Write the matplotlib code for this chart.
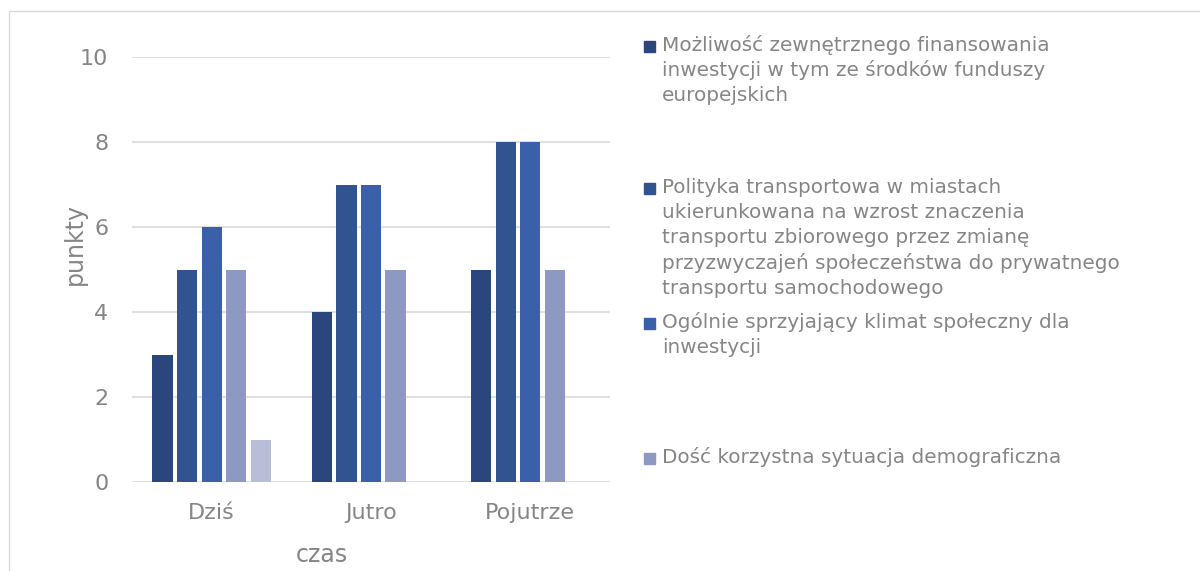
import numpy as np
import matplotlib.pyplot as plt
from matplotlib.patches import Rectangle

plt.rcParams['font.family'] = ['DejaVu Sans']

# --- DATA ---
categories = ["Dziś", "Jutro", "Pojutrze"]
series_names = [
    "Możliwość zewnętrznego finansowania\ninwestycji w tym ze środków funduszy\neuropejskich",
    "Polityka transportowa w miastach\nukierunkowana na wzrost znaczenia\ntransportu zbiorowego przez zmianę\nprzyzwyczajeń społeczeństwa do prywatnego\ntransportu samochodowego",
    "Ogólnie sprzyjający klimat społeczny dla\ninwestycji",
    "Dość korzystna sytuacja demograficzna",
    "",
]
s1 = [3, 4, 5]
s2 = [5, 7, 8]
s3 = [6, 7, 8]
s4 = [5, 5, 5]
s5 = [1, 0, 0]
values = [s1, s2, s3, s4, s5]
colors = ["#2a467c", "#31538f", "#3960a9", "#8d99c3", "#b8bdd8"]

TXT = "#858585"
W, H = 1200, 571

fig = plt.figure(figsize=(12, 5.71), dpi=100)
ax = fig.add_axes([132 / W, 1 - 482 / H, (610 - 132) / W, (482 - 57) / H])

x = np.arange(len(categories))
step = 0.154
bw = 0.127
for i, vals in enumerate(values):
    ax.bar(x + (i - 2) * step, vals, width=bw, color=colors[i], zorder=3)

ax.set_xlim(-0.5, 2.5)
ax.set_ylim(0, 10)
ax.set_yticks([0, 2, 4, 6, 8, 10])
ax.set_xticks(x)
ax.set_xticklabels(categories)
ax.grid(axis="y", color="#e0e0e0", linewidth=1.5, zorder=0)
for s in ax.spines.values():
    s.set_visible(False)
ax.tick_params(axis="both", length=0, labelsize=16, labelcolor=TXT)
ax.tick_params(axis="y", pad=17)
ax.tick_params(axis="x", pad=15)

# axis titles
fig.text(322 / W, 1 - 555 / H, "czas", fontsize=17, color=TXT, ha="center", va="center")
fig.text(75 / W, 1 - 244 / H, "punkty", fontsize=17, color=TXT, ha="center", va="center",
         rotation=90)

# legend (first four series)
baselines = [51, 193, 328, 463]
for i in range(4):
    lines = series_names[i].split("\n")
    for j, line in enumerate(lines):
        fig.text(662 / W, 1 - (baselines[i] + j * 25.2) / H, line, fontsize=14.4,
                 color=TXT, ha="left", va="baseline")
    fig.patches.append(Rectangle((644 / W, 1 - (baselines[i] + 1) / H), 11 / W, 11 / H,
                                 transform=fig.transFigure, color=colors[i]))

# chart border
fig.patches.append(Rectangle((9 / W, -0.1), 1.2, 1 - 11 / H + 0.1, transform=fig.transFigure,
                             fill=False, edgecolor="#d9d9d9", linewidth=1))

fig.savefig("out.png", dpi=100)
